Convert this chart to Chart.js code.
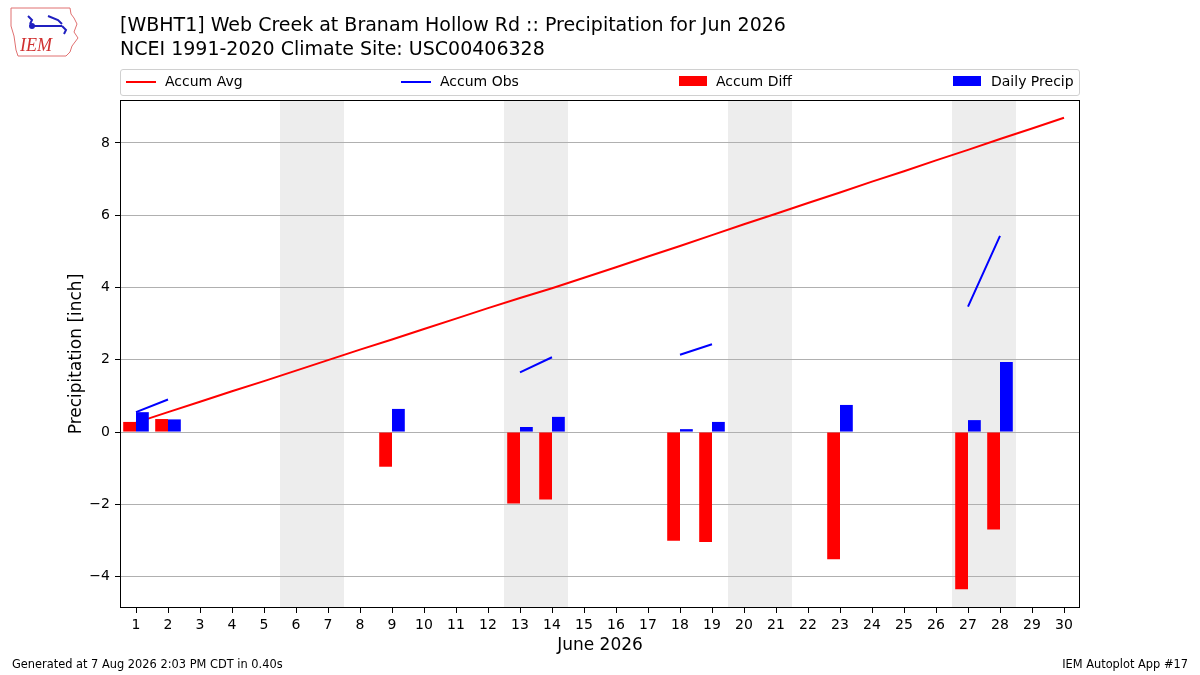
<!DOCTYPE html>
<html>
<head>
<meta charset="utf-8">
<script src="https://cdn.jsdelivr.net/npm/chart.js@4"></script>
<style>
    body { margin: 0; background: #fff; font-family: "DejaVu Sans", sans-serif; }
    #wrap { position: relative; width: 1200px; height: 675px; overflow: hidden; }
    #grafica { position: absolute; left: 0; top: 0; }
    .titulo { position: absolute; left: 120px; top: 12px; font-size: 19px; line-height: 24px; color: #000; white-space: nowrap; }
    .leyenda { position: absolute; left: 120px; top: 69px; width: 958px; height: 25px; border: 1px solid #d0d0d0; border-radius: 3px; background: #fff; font-size: 14px; }
    .item { position: absolute; top: -1px; height: 25px; line-height: 25px; white-space: nowrap; }
    .muestra-linea { position: absolute; top: 11px; width: 30px; height: 2px; }
    .muestra-barra { position: absolute; top: 6px; width: 28px; height: 10px; }
    .pie { position: absolute; top: 657px; font-size: 11.4px; color: #000; white-space: nowrap; }
</style>
</head>
<body>
<div id="wrap">
    <canvas id="grafica" width="1200" height="675"></canvas>

    <svg style="position:absolute;left:8px;top:6px" width="72" height="52" viewBox="0 0 72 52">
        <path d="M3 2 L62 2 L63 8 L66 12 L69 18 L66 26 L70 32 L64 40 L62 46 L58 50 L10 50 L8 44 L6 30 L3 20 Z" fill="none" stroke="#e07070" stroke-width="1"/>
        <path d="M20 10 L24 14 L22 18 M24 20 L54 20 M40 10 L50 14 L54 18 M54 20 L58 24 L56 28" fill="none" stroke="#2020c0" stroke-width="2"/>
        <circle cx="24" cy="20" r="3" fill="#2020c0"/>
        <text x="12" y="45" font-family="Liberation Serif, serif" font-style="italic" font-size="18" fill="#d03030">IEM</text>
    </svg>

    <div class="titulo">[WBHT1] Web Creek at Branam Hollow Rd :: Precipitation for Jun 2026<br>NCEI 1991-2020 Climate Site: USC00406328</div>

    <div class="leyenda">
        <div class="muestra-linea" style="left:5px;background:#ff0000"></div>
        <div class="item" style="left:44px">Accum Avg</div>
        <div class="muestra-linea" style="left:280px;background:#0000ff"></div>
        <div class="item" style="left:319px">Accum Obs</div>
        <div class="muestra-barra" style="left:558px;background:#ff0000"></div>
        <div class="item" style="left:595px">Accum Diff</div>
        <div class="muestra-barra" style="left:832px;background:#0000ff"></div>
        <div class="item" style="left:870px">Daily Precip</div>
    </div>

    <div class="pie" style="left:12px">Generated at 7 Aug 2026 2:03 PM CDT in 0.40s</div>
    <div class="pie" style="right:12px">IEM Autoplot App #17</div>
</div>

<script>
//Dias del mes
const dias = ['1','2','3','4','5','6','7','8','9','10','11','12','13','14','15',
    '16','17','18','19','20','21','22','23','24','25','26','27','28','29','30'];

//Fines de semana (sombreados)
const finesSemana = ['6','7','13','14','20','21','27','28'];

//Precipitacion acumulada promedio (pulgadas)
const acumPromedio = [0.26, 0.55, 0.84, 1.13, 1.41, 1.70, 1.99, 2.28, 2.56, 2.85,
    3.14, 3.43, 3.71, 3.98, 4.27, 4.56, 4.86, 5.15, 5.45, 5.75,
    6.04, 6.34, 6.63, 6.93, 7.22, 7.52, 7.81, 8.11, 8.40, 8.70];

//Precipitacion acumulada observada (solo dias con lluvia)
const acumObs = [0.55, 0.90, null, null, null, null, null, null, 1.53, null,
    null, null, 1.65, 2.07, null, null, null, 2.14, 2.43, null,
    null, null, 3.18, null, null, null, 3.47, 5.43, null, null];

//Diferencia acumulada (obs - promedio)
const acumDiff = [0.28, 0.36, null, null, null, null, null, null, -0.96, null,
    null, null, -1.98, -1.87, null, null, null, -3.01, -3.04, null,
    null, null, -3.52, null, null, null, -4.35, -2.70, null, null];

//Precipitacion diaria
const precipDiaria = [0.55, 0.35, null, null, null, null, null, null, 0.64, null,
    null, null, 0.14, 0.42, null, null, null, 0.08, 0.28, null,
    null, null, 0.75, null, null, null, 0.33, 1.94, null, null];

const marcasY = [-4, -2, 0, 2, 4, 6, 8];

//Sombreado de fines de semana y marco del area
const pluginFondo = {
    id: 'fondo',
    beforeDraw(chart) {
        const { ctx, chartArea, scales } = chart;
        const mitad = chartArea.width / dias.length / 2;
        ctx.save();
        ctx.fillStyle = '#ededed';
        finesSemana.forEach(d => {
            const px = scales.x.getPixelForValue(dias.indexOf(d));
            ctx.fillRect(px - mitad, chartArea.top, mitad * 2, chartArea.height);
        });
        ctx.restore();
    },
    afterDraw(chart) {
        const { ctx, chartArea } = chart;
        ctx.save();
        ctx.strokeStyle = '#000';
        ctx.lineWidth = 1;
        ctx.strokeRect(chartArea.left + 0.5, chartArea.top + 0.5, chartArea.width - 1, chartArea.height - 1);
        ctx.restore();
    }
};

document.addEventListener('DOMContentLoaded', function() {
    Chart.defaults.font.family = '"DejaVu Sans", sans-serif';
    Chart.defaults.color = '#000';

    const ctx = document.getElementById('grafica').getContext('2d');
    new Chart(ctx, {
        type: 'bar',
        data: {
            labels: dias,
            datasets: [{
                type: 'line',
                label: 'Accum Avg',
                data: acumPromedio,
                borderColor: '#ff0000',
                borderWidth: 2,
                pointRadius: 0,
                order: 2
            }, {
                type: 'line',
                label: 'Accum Obs',
                data: acumObs,
                borderColor: '#0000ff',
                borderWidth: 2,
                pointRadius: 0,
                spanGaps: false,
                order: 2
            }, {
                label: 'Accum Diff',
                data: acumDiff,
                backgroundColor: '#ff0000',
                categoryPercentage: 0.8,
                barPercentage: 1.0,
                order: 1
            }, {
                label: 'Daily Precip',
                data: precipDiaria,
                backgroundColor: '#0000ff',
                categoryPercentage: 0.8,
                barPercentage: 1.0,
                order: 1
            }]
        },
        options: {
            responsive: false,
            animation: false,
            layout: { padding: { left: 66, right: 120, top: 100, bottom: 19 } },
            plugins: {
                legend: { display: false },
                tooltip: { enabled: false }
            },
            scales: {
                x: {
                    offset: true,
                    grid: { drawOnChartArea: false, offset: false, drawTicks: true, tickLength: 5, tickColor: '#000' },
                    border: { display: false },
                    ticks: { font: { size: 14 }, padding: 4, maxRotation: 0, autoSkip: false },
                    title: { display: true, text: 'June 2026', font: { size: 17 }, padding: { top: 2, bottom: 0 } },
                    afterFit: s => { s.height = 48; }
                },
                y: {
                    min: -4.87,
                    max: 9.19,
                    afterBuildTicks: s => { s.ticks = marcasY.map(v => ({ value: v })); },
                    ticks: {
                        font: { size: 14 },
                        padding: 5,
                        callback: v => v < 0 ? '\u2212' + Math.abs(v) : String(v)
                    },
                    grid: { color: '#b0b0b0', lineWidth: 1, tickLength: 5, tickColor: '#000' },
                    border: { display: false },
                    title: { display: true, text: 'Precipitation [inch]', font: { size: 17 }, padding: { top: 0, bottom: 0 } },
                    afterFit: s => { s.width = 54; }
                }
            }
        },
        plugins: [pluginFondo]
    });
});
</script>
</body>
</html>
